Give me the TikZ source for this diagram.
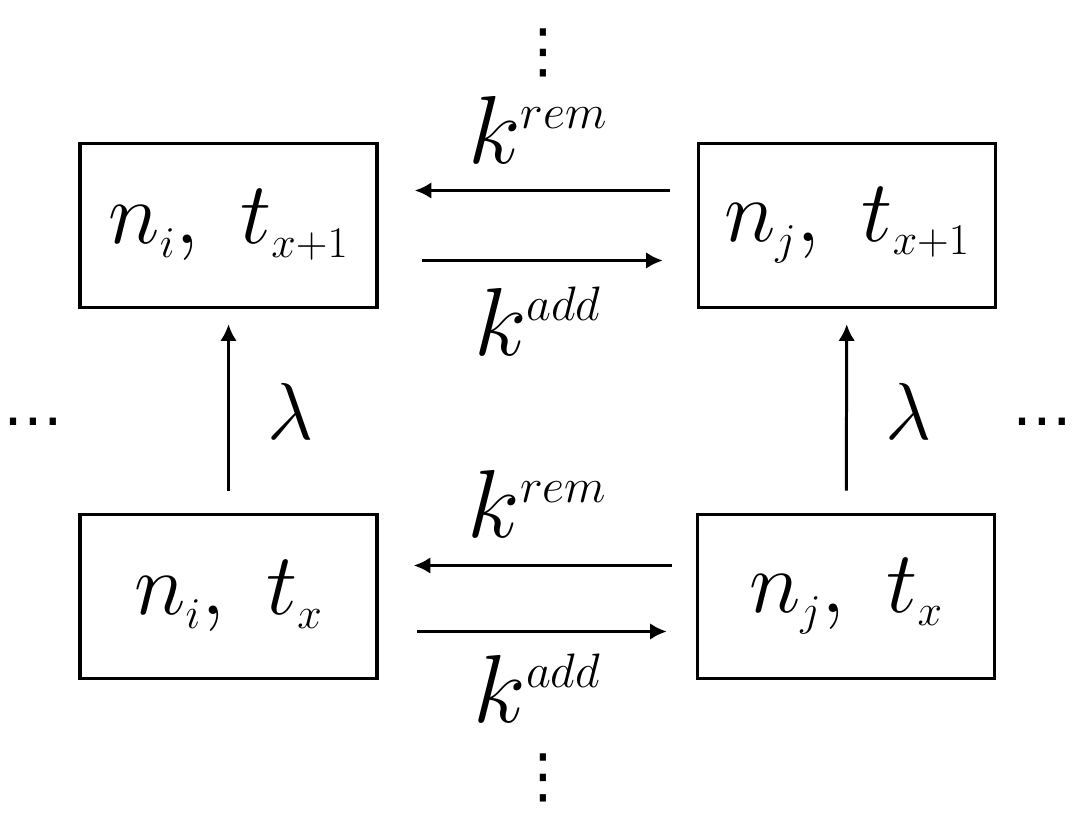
\documentclass[tikz,border=0pt]{standalone}
\usepackage{fix-cm}
\usepackage{amsmath}
\usepackage{fontspec}
\newfontfamily\dotsfont{DejaVu Sans}
\usepackage{tikz}
\usetikzlibrary{arrows.meta}

\begin{document}
\begin{tikzpicture}[main/.style = {draw, rectangle, line width=2pt, minimum width=5.94cm, minimum height=3.28cm, inner sep=0pt, font=\fontsize{50}{56}\selectfont},
        lab/.style = {font=\fontsize{55}{60}\selectfont, inner sep=0pt},
        dts/.style = {font=\dotsfont\fontsize{34}{40}\selectfont, inner sep=0pt}]
        \useasboundingbox (0,0) rectangle (21.5,16.6);
        \node[main] (1) at (4.57, 4.67) {$n_{\scriptscriptstyle i},\ t_{\scriptscriptstyle x}$};
        \node[main] (2) at (16.92, 4.67) {$n_{\scriptscriptstyle j},\ t_{\scriptscriptstyle x}$};
        \node[main] (3) at (4.57, 12.09) {$n_{\scriptscriptstyle i},\ t_{\scriptscriptstyle x+1}$};
        \node[main] (4) at (16.94, 12.09) {$n_{\scriptscriptstyle j},\ t_{\scriptscriptstyle x+1}$};
        \draw[->, line width=1.7pt, >={Latex[length=9.5pt,width=9.5pt]}, shorten <=0.54cm, shorten >=0.72cm] ([yshift=0.7cm]4.west) -- node[lab, above, yshift=0.5cm]{$k^{\scriptscriptstyle rem}$} ([yshift=0.7cm]3.east);
        \draw[->, line width=1.7pt, >={Latex[length=9.5pt,width=9.5pt]}, shorten <=0.86cm, shorten >=0.68cm] ([yshift=-0.7cm]3.east) -- node[lab, below, yshift=-0.5cm]{$k^{\scriptscriptstyle add}$} ([yshift=-0.7cm]4.west);
        \draw[->, line width=1.7pt, >={Latex[length=9.5pt,width=9.5pt]}, shorten <=0.48cm, shorten >=0.7cm] ([yshift=0.62cm]2.west) -- node[lab, above, yshift=0.52cm]{$k^{\scriptscriptstyle rem}$} ([yshift=0.62cm]1.east);
        \draw[->, line width=1.7pt, >={Latex[length=9.5pt,width=9.5pt]}, shorten <=0.76cm, shorten >=0.58cm] ([yshift=-0.7cm]1.east) -- node[lab, below, yshift=-0.42cm]{$k^{\scriptscriptstyle add}$} ([yshift=-0.7cm]2.west);
        \draw[->, line width=1.7pt, >={Latex[length=9.5pt,width=9.5pt]}, shorten <=0.44cm, shorten >=0.3cm] (1) -- node[lab, right, xshift=0.75cm, font=\fontsize{46}{50}\selectfont]{$\lambda$} (3);
        \draw[->, line width=1.7pt, >={Latex[length=9.5pt,width=9.5pt]}, shorten <=0.44cm, shorten >=0.3cm] (2) -- node[lab, right, xshift=0.75cm, font=\fontsize{46}{50}\selectfont]{$\lambda$} (4);
        \node[dts] (up) at (10.86, 15.54) {⋮};
        \node[dts] (down) at (10.86, 1.04) {⋮};
        \node[dts] (left) at (0.66, 8.16) {…};
        \node[dts] (right) at (20.84, 8.16) {…};
    \end{tikzpicture}
\end{document}
